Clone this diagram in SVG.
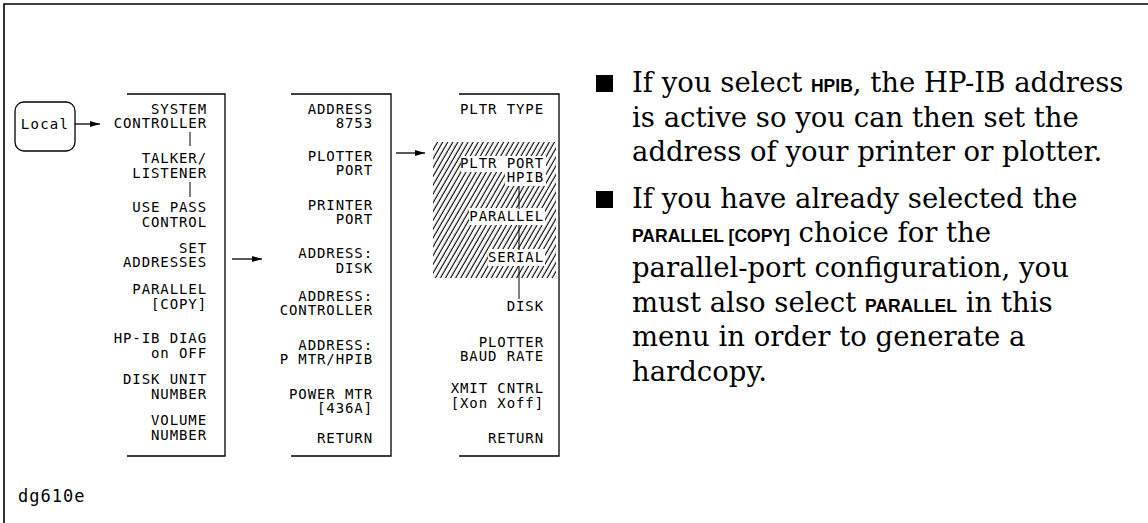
<svg xmlns="http://www.w3.org/2000/svg" width="1148" height="523" viewBox="0 0 1148 523">
<defs>
<style>
.m{font-family:"DejaVu Sans Mono","Liberation Mono",monospace;font-size:14px;letter-spacing:0.9px;fill:#000;text-anchor:end}
.ln{stroke:#000;stroke-width:1.3;fill:none}
.thin{stroke:#000;stroke-width:1;fill:none}
.b{font-family:"DejaVu Serif","Liberation Serif",serif;font-size:27.5px;fill:#000}
.k{font-family:"Liberation Sans",Arial,sans-serif;font-weight:bold;font-size:17.5px}
</style>
<marker id="ah" viewBox="0 0 10 6" refX="10" refY="3" markerWidth="10" markerHeight="6" markerUnits="userSpaceOnUse" orient="auto">
<path d="M0,0 L10,3 L0,6 z" fill="#000"/>
</marker>
<pattern id="hatch" width="4.4" height="10" patternUnits="userSpaceOnUse" patternTransform="rotate(30)">
<line x1="1.2" y1="0" x2="1.2" y2="10" stroke="#000" stroke-width="1.1"/>
</pattern>
</defs>
<rect width="1148" height="523" fill="#fff"/>
<path d="M4,523 V4 H1148" stroke="#000" stroke-width="1.6" fill="none"/>

<g id="local">
<rect x="15" y="102" width="60" height="49" rx="9" class="ln"/>
<text x="45" y="129" class="m" style="text-anchor:middle;letter-spacing:1.3px">Local</text>
</g>

<g id="menu1">
<path d="M127,94 H225 V456 H127" class="ln"/>
<text class="m" x="207" y="114">SYSTEM</text>
<text class="m" x="207" y="128">CONTROLLER</text>
<text class="m" x="207" y="163">TALKER/</text>
<text class="m" x="207" y="178">LISTENER</text>
<text class="m" x="207" y="212">USE PASS</text>
<text class="m" x="207" y="227">CONTROL</text>
<text class="m" x="207" y="253">SET</text>
<text class="m" x="207" y="267">ADDRESSES</text>
<text class="m" x="207" y="294">PARALLEL</text>
<text class="m" x="207" y="309">[COPY]</text>
<text class="m" x="207" y="343">HP-IB DIAG</text>
<text class="m" x="207" y="358">on OFF</text>
<text class="m" x="207" y="384">DISK UNIT</text>
<text class="m" x="207" y="399">NUMBER</text>
<text class="m" x="207" y="425">VOLUME</text>
<text class="m" x="207" y="440">NUMBER</text>
<path d="M190,132 V146 M190,182 V197" class="thin"/>
</g>

<g id="menu2">
<path d="M291,94 H391 V456 H291" class="ln"/>
<text class="m" x="373" y="114">ADDRESS</text>
<text class="m" x="373" y="128">8753</text>
<text class="m" x="373" y="161">PLOTTER</text>
<text class="m" x="373" y="175">PORT</text>
<text class="m" x="373" y="210">PRINTER</text>
<text class="m" x="373" y="224">PORT</text>
<text class="m" x="373" y="258">ADDRESS:</text>
<text class="m" x="373" y="273">DISK</text>
<text class="m" x="373" y="301">ADDRESS:</text>
<text class="m" x="373" y="315">CONTROLLER</text>
<text class="m" x="373" y="350">ADDRESS:</text>
<text class="m" x="373" y="364">P MTR/HPIB</text>
<text class="m" x="373" y="399">POWER MTR</text>
<text class="m" x="373" y="413">[436A]</text>
<text class="m" x="373" y="443">RETURN</text>
</g>

<g id="menu3">
<rect x="433" y="142" width="123" height="136" fill="url(#hatch)"/>
<rect x="461" y="156" width="85" height="16" fill="#fff"/>
<rect x="505" y="170" width="41" height="16" fill="#fff"/>
<rect x="469" y="208" width="76" height="17" fill="#fff"/>
<rect x="488" y="249" width="57" height="17" fill="#fff"/>
<path d="M459,94 H559 V456 H459" class="ln"/>
<text class="m" x="544" y="114">PLTR TYPE</text>
<text class="m" x="544" y="168">PLTR PORT</text>
<text class="m" x="544" y="182">HPIB</text>
<text class="m" x="544" y="221">PARALLEL</text>
<text class="m" x="544" y="262">SERIAL</text>
<text class="m" x="544" y="311">DISK</text>
<text class="m" x="544" y="347">PLOTTER</text>
<text class="m" x="544" y="361">BAUD RATE</text>
<text class="m" x="544" y="393">XMIT CNTRL</text>
<text class="m" x="544" y="408">[Xon Xoff]</text>
<text class="m" x="544" y="443">RETURN</text>
<path d="M519,186 V209 M519,225 V250 M519,266 V299" class="thin"/>
</g>

<g id="connectors">
<line x1="75" y1="124" x2="100" y2="124" class="ln" marker-end="url(#ah)"/>
<line x1="232" y1="259" x2="262" y2="259" class="ln" marker-end="url(#ah)"/>
<line x1="396" y1="153" x2="425" y2="153" class="ln" marker-end="url(#ah)"/>
</g>

<g id="notes">
<rect x="596" y="75" width="17" height="17" fill="#000"/>
<rect x="596" y="191" width="17" height="17" fill="#000"/>
<text class="b" x="632" y="92">If you select <tspan class="k">HPIB</tspan>, the HP-IB address</text>
<text class="b" x="632" y="127">is active so you can then set the</text>
<text class="b" x="632" y="161">address of your printer or plotter.</text>
<text class="b" x="632" y="208">If you have already selected the</text>
<text class="b" x="632" y="242"><tspan class="k">PARALLEL [COPY]</tspan> choice for the</text>
<text class="b" x="632" y="277">parallel-port configuration, you</text>
<text class="b" x="632" y="312">must also select <tspan class="k">PARALLEL</tspan> in this</text>
<text class="b" x="632" y="346">menu in order to generate a</text>
<text class="b" x="632" y="381">hardcopy.</text>
</g>

<text x="18" y="502" style="font-family:'DejaVu Sans Mono',monospace;font-size:17px;letter-spacing:1px">dg610e</text>
</svg>
